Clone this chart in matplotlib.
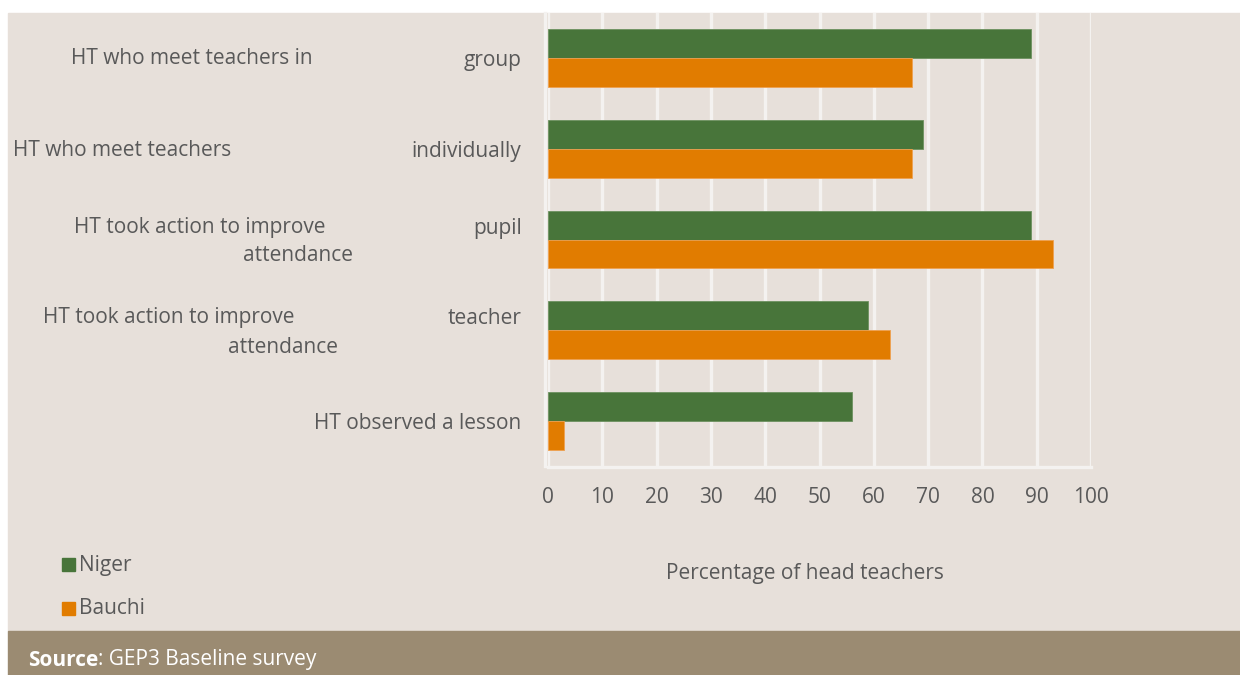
import matplotlib.pyplot as plt
import matplotlib.transforms as mtransforms
from matplotlib.patches import Rectangle
import numpy as np

plt.rcParams['font.family'] = ['Open Sans', 'DejaVu Sans']

tick_labels = ["group", "individually", "pupil", "teacher", "HT observed a lesson"]
two_line = [False, False, True, True, False]
niger = [89, 69, 89, 59, 56]
bauchi = [67, 67, 93, 63, 3]
series_names = ["Niger", "Bauchi"]

GREEN = "#48753a"
ORANGE = "#e17c00"
BEIGE = "#e7e0da"
BAND = "#9b8b72"
GRID = "#f4f2f0"
TXT = "#595959"
FS = 15

W, H = 1240, 675
fig = plt.figure(figsize=(W / 100, H / 100), dpi=100)
fig.patch.set_facecolor("white")

# panel background and source band
fig.patches.append(Rectangle((8 / W, 1 - 631 / H), 1 - 8 / W, (631 - 13) / H,
                             transform=fig.transFigure, color=BEIGE, zorder=-10))
fig.patches.append(Rectangle((8 / W, 0), 1 - 8 / W, 44 / H,
                             transform=fig.transFigure, color=BAND, zorder=-10))

ax = fig.add_axes([548 / W, 1 - 466 / H, (1091 - 548) / W, (466 - 13) / H])
ax.set_facecolor("none")

y = np.arange(len(tick_labels))
h = 0.32
ax.barh(y - h / 2, niger, height=h, color=GREEN, edgecolor="#6d9160", linewidth=0.6, zorder=3)
ax.barh(y + h / 2, bauchi, height=h, color=ORANGE, edgecolor="#eea050", linewidth=0.6, zorder=3)

ax.set_xlim(0, 100)
ax.set_ylim(len(tick_labels) - 0.5, -0.5)
ax.set_xticks(range(0, 101, 10))
ax.xaxis.grid(True, color=GRID, linewidth=2.4, zorder=1)
ax.set_axisbelow(True)
for s in ["top", "right"]:
    ax.spines[s].set_visible(False)
for s in ["left", "bottom"]:
    ax.spines[s].set_color(GRID)
    ax.spines[s].set_linewidth(2.4)
ax.spines["left"].set_position(("outward", 2))
ax.spines["bottom"].set_position(("outward", 1))

ax.set_yticks(y)
ax.set_yticklabels(tick_labels)
ax.tick_params(axis="both", length=0, labelsize=FS, labelcolor=TXT)
ax.tick_params(axis="y", pad=17)
ax.tick_params(axis="x", pad=14)

# wrapped categories show their tick text on the first line
shift = mtransforms.ScaledTranslation(0, 14 / 100, fig.dpi_scale_trans)
for lab, tl in zip(ax.get_yticklabels(), two_line):
    if tl:
        lab.set_transform(lab.get_transform() + shift)

# leftover parts of the wrapped category labels
def ftext(px, py, s, ha="left", **kw):
    return fig.text(px / W, 1 - py / H, s, ha=ha, va="center", fontsize=FS, color=TXT, **kw)

ftext(71, 59, "HT who meet teachers in")
ftext(13, 150, "HT who meet teachers")
ftext(74, 227, "HT took action to improve")
ftext(353, 256, "attendance", ha="right")
ftext(43, 318, "HT took action to improve")
ftext(338, 347, "attendance", ha="right")

ftext(805, 573, "Percentage of head teachers", ha="center")

# legend
for i, (name, col) in enumerate(zip(series_names, [GREEN, ORANGE])):
    py = 564 + i * 44
    fig.patches.append(Rectangle((62 / W, 1 - (py + 7) / H), 13 / W, 13 / H,
                                 transform=fig.transFigure, color=col, zorder=2))
    ftext(79, py + 1, name)

src = fig.text(28 / W, 1 - 660 / H, "Source", ha="left", va="center", fontsize=FS,
               color="white", fontweight="bold")
fig.canvas.draw()
bb = src.get_window_extent()
fig.text(bb.x1 / W, 1 - 660 / H, ": GEP3 Baseline survey", ha="left", va="center",
         fontsize=FS, color="white")

fig.savefig("out.png", dpi=100)
